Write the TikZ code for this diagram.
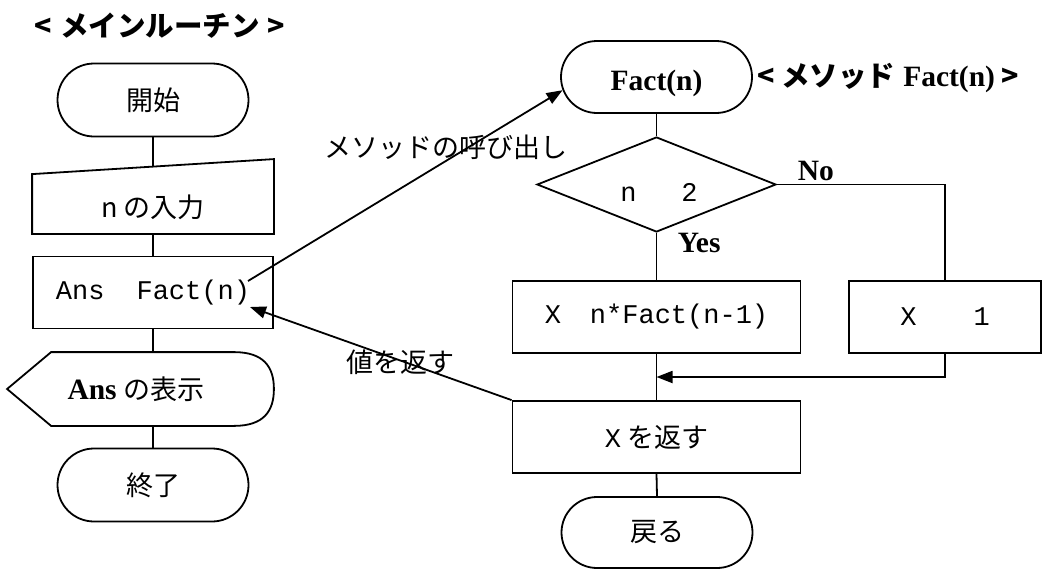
\documentclass[tikz,border=0pt]{standalone}
\usepackage{fontspec}
\setmainfont{Liberation Serif}
\newfontfamily\jp{Noto Sans CJK JP}
\newfontfamily\mono{Liberation Mono}
\usetikzlibrary{shapes.misc,shapes.geometric,arrows.meta,calc}

% bold serif labels are set a little larger than the rest
\newcommand{\serifbold}{\fontsize{29.5}{34}\selectfont\bfseries}
\newcommand{\titlejp}{\fontsize{28.5}{33}\selectfont\jp\bfseries}

\begin{document}
\begin{tikzpicture}[x=1pt,y=-1pt,
  line width=1.8pt,
  every node/.style={inner sep=0pt, font=\fontsize{27}{32}\selectfont},
  term/.style={rounded rectangle, draw, minimum width=191pt, minimum height=73pt},
  proc/.style={rectangle, draw, minimum width=240pt, minimum height=72pt},
  frame/.style={rectangle, draw=none},
  arr/.style={-{Triangle[length=16pt,width=12pt]}}
]
\useasboundingbox (0,0) rectangle (1043,573);

% ---------- main routine ----------
\node at (160,26) {\titlejp <\hspace{8pt}メインルーチン\hspace{8pt}>};

\node[term] (start) at (153,100) {\jp 開始};

% manual input (sloped top edge)
\node[frame, minimum width=240pt, minimum height=73pt] (input) at (153,196.5) {};
\draw (input.south west) -- ($(input.north west)+(0,15)$) -- (input.north east)
      -- (input.south east) -- cycle;
\node at (153,207) {\jp n の入力};
\coordinate (intop) at ($(input.north)+(0,7.5)$);

\node[proc] (call) at (153,292.5) {\mono Ans\hspace{32pt}Fact(n)};

% display shape
\node[frame, minimum width=265pt, minimum height=72pt] (disp) at (140.5,389) {};
\draw (disp.west) -- ($(disp.north west)+(44,0)$) -- ($(disp.north east)+(-40,0)$)
      .. controls +(30,0) and +(0,-22) .. (disp.east)
      .. controls +(0,22) and +(30,0) .. ($(disp.south east)+(-40,0)$)
      -- ($(disp.south west)+(44,0)$) -- cycle;
\node at (136,389) {{\serifbold Ans} {\jp の表示}};

\node[term] (end) at (153,485) {\jp 終了};

\draw (start.south) -- (intop);
\draw (input.south) -- (call.north);
\draw (call.south) -- (call.south |- disp.north);
\draw (call.south |- disp.south) -- (end.north);

% ---------- method Fact(n) ----------
\node[term, minimum height=72pt] (fact) at (656.5,77) {};
\node at (656.5,83) {\serifbold Fact(n)};
\node[anchor=west] at (757,78) {{\titlejp <\hspace{6pt}メソッド}\hspace{8pt}{\serifbold Fact(n)}\hspace{6pt}{\titlejp >}};

\node[diamond, draw, minimum width=239pt, minimum height=95pt] (cond) at (656.5,184.5) {};
\node at (659,192) {\mono n\hspace{45pt}2};
\node[anchor=base west] at (677,252) {\serifbold Yes};
\node[anchor=base west] at (797,180) {\serifbold No};

\node[proc, minimum width=288pt] (mul) at (656.5,317) {\mono X\hspace{29pt}n*Fact(n-1)};
\node[proc, minimum width=192pt] (one) at (945,317) {\mono X\hspace{57pt}1};
\node[proc, minimum width=288pt] (ret) at (656.5,437) {{\mono X}\hspace{6pt}{\jp を返す}};
\node[term, minimum height=71pt] (back) at (657,532.5) {\jp 戻る};

\coordinate (merge) at (656.5,377);

\draw (fact.south) -- (cond.north);
\draw (cond.south) -- (mul.north);
\draw (cond.east) -| (one.north);
\draw (mul.south) -- (ret.north);
\draw[arr] (one.south) |- (merge);
\draw (ret.south) -- (back.north);

% ---------- call and return ----------
\coordinate (callfrom) at (248,281);
\coordinate (retto) at (250,307);
\draw[arr] (callfrom) -- (fact.188);
\draw[arr] (ret.north west) -- (retto);

\node at (446,147) {\jp メソッドの呼び出し};
\node at (400,362) {\jp 値を返す};
\end{tikzpicture}
\end{document}
